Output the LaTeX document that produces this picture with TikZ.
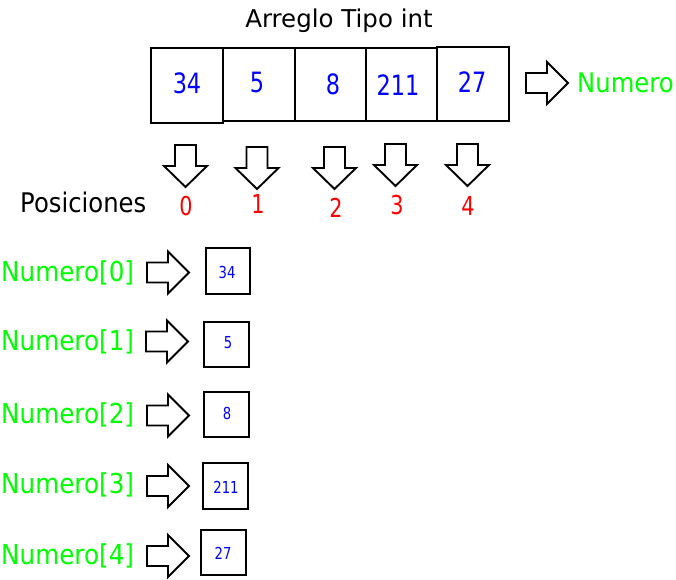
\documentclass[tikz,border=0pt]{standalone}
\usepackage{fontspec}
\setmainfont{DejaVu Sans}
\newfontfamily\tah[FakeStretch=0.9]{DejaVu Sans}
\newfontfamily\tahdig[FakeStretch=0.8]{DejaVu Sans}
\definecolor{numgreen}{RGB}{0,255,0}
\definecolor{numblue}{RGB}{0,0,255}
\definecolor{posred}{RGB}{255,0,0}
\tikzset{
  blk/.style={line width=1.9pt, fill=white, line join=miter},
  cell/.style={draw, line width=2.2pt, inner sep=0pt},
  bigcell/.style={cell, minimum width=72pt, minimum height=73pt},
  smallcell/.style={cell, minimum width=45pt, minimum height=45pt},
  bigval/.style={inner sep=0pt, text=numblue, font=\tahdig\fontsize{28}{30}\selectfont},
  smallval/.style={inner sep=0pt, text=numblue, font=\tahdig\fontsize{16.5}{18}\selectfont},
  posnum/.style={inner sep=0pt, text=posred, font=\tahdig\fontsize{26}{28}\selectfont},
  namelabel/.style={inner sep=0pt, text=numgreen, font=\tah\fontsize{27.4}{30}\selectfont},
  downblk/.pic={\draw[blk] (-10.5,0) -- (10.5,0) -- (10.5,21) -- (21.5,21) -- (0,42) -- (-21.5,21) -- (-10.5,21) -- cycle;},
  rightblk/.pic={\draw[blk] (0,-10) -- (21,-10) -- (21,-21) -- (42,0) -- (21,21) -- (21,10) -- (0,10) -- cycle;},
}
\begin{document}
\begin{tikzpicture}[x=1pt,y=-1pt]
\useasboundingbox (0,0) rectangle (676,579);

% title
\node[inner sep=0pt, anchor=base, font=\fontsize{24.5}{28}\selectfont] (title) at (339,27) {Arreglo Tipo int};

% array cells
\node[bigcell, minimum height=75pt] (c0) at (187,85.5) {};
\node[bigcell] (c1) at (259,84.5) {};
\node[bigcell, minimum width=71pt] (c2) at (330.5,84.5) {};
\node[bigcell, minimum width=71pt] (c3) at (401.5,84.5) {};
\node[bigcell, minimum height=74pt] (c4) at (473,84) {};

\node[bigval] (v0) at (187,83) {34};
\node[bigval] (v1) at (257,82) {5};
\node[bigval] (v2) at (333,84) {8};
\node[bigval] (v3) at (398,85) {211};
\node[bigval] (v4) at (472,82) {27};

% array name
\pic at (526,83) {rightblk};
\node[inner sep=0pt, anchor=west, text=numgreen, font=\tah\fontsize{27}{29}\selectfont] (name) at (577,83) {Numero};

% position arrows
\pic at (185.5,145) {downblk};
\pic at (257,147) {downblk};
\pic at (334.5,147) {downblk};
\pic at (395.5,144) {downblk};
\pic at (467.5,144) {downblk};

\node[inner sep=0pt, anchor=base west, font=\tah\fontsize{27}{30}\selectfont] (pos) at (20,212) {Posiciones};
\node[posnum] (p0) at (186,206) {0};
\node[posnum] (p1) at (258,204) {1};
\node[posnum] (p2) at (336,208) {2};
\node[posnum] (p3) at (397,205) {3};
\node[posnum] (p4) at (468,206) {4};

% element access rows
\node[namelabel, anchor=base west] (n0) at (1,281) {Numero[0]};
\node[namelabel, anchor=base west] (n1) at (1,350) {Numero[1]};
\node[namelabel, anchor=base west] (n2) at (1,423) {Numero[2]};
\node[namelabel, anchor=base west] (n3) at (1,493.5) {Numero[3]};
\node[namelabel, anchor=base west] (n4) at (1,564) {Numero[4]};

\pic at (147,272.5) {rightblk};
\pic at (146,341.5) {rightblk};
\pic at (147,415.5) {rightblk};
\pic at (147,486) {rightblk};
\pic at (147,556) {rightblk};

\node[smallcell, minimum width=44pt, minimum height=46pt] (b0) at (228,271) {};
\node[smallcell] (b1) at (226.5,344.5) {};
\node[smallcell] (b2) at (226.5,414.5) {};
\node[smallcell, minimum height=46pt] (b3) at (225.5,486) {};
\node[smallcell] (b4) at (223.5,552.5) {};

\node[smallval] (s0) at (227,272) {34};
\node[smallval] (s1) at (228,343) {5};
\node[smallval] (s2) at (227,413) {8};
\node[smallval] (s3) at (226,487) {211};
\node[smallval] (s4) at (223,553) {27};
\end{tikzpicture}
\end{document}
